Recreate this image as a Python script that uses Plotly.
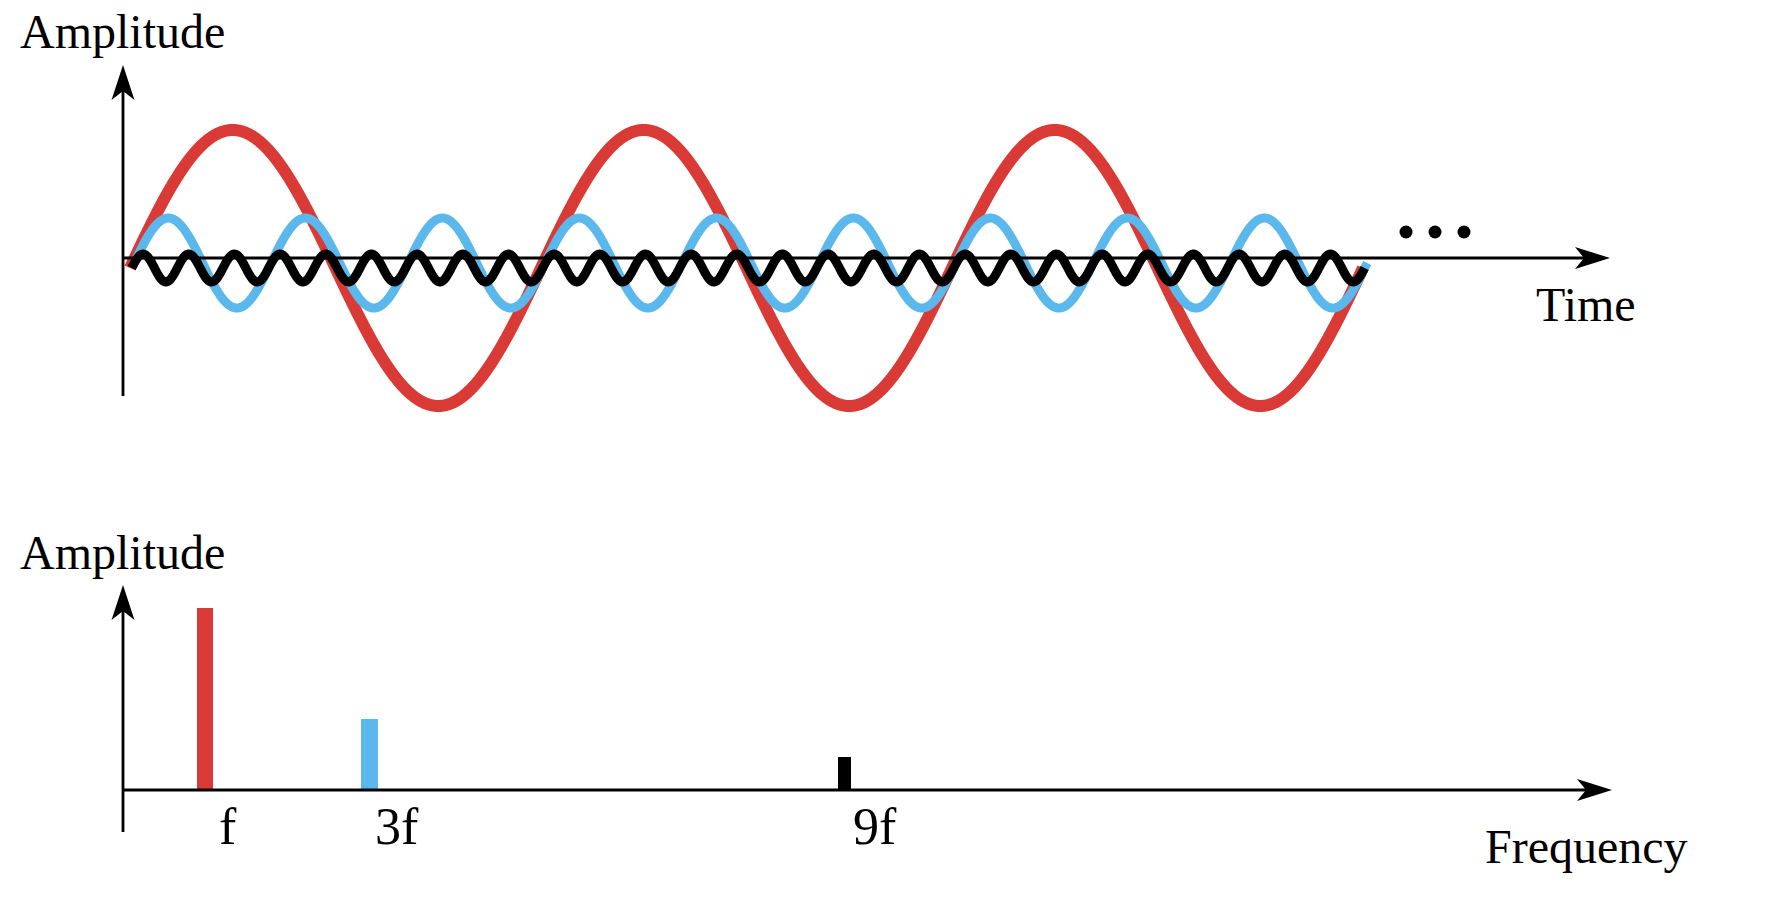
import numpy as np
import plotly.graph_objects as go

# ---------------- data ----------------
# time panel: three harmonics (cycles over the drawn window, amplitude relative to fundamental)
wave_names = ["f", "3f", "9f"]
wave_cycles = [3, 9, 27]
wave_amp = [1.0, 0.326, 0.101]
wave_offset = [0.0, 0.036, 0.0]      # small baseline shift seen in the picture
wave_t0 = [0.0, 0.010, 0.004]        # start (in fundamental periods)
wave_span = 3.0                      # window length, in fundamental periods

# frequency panel: spectrum bars
harmonic_labels = ["f", "3f", "9f"]
harmonic_freq = [1.0, 3.0, 8.77]
harmonic_amp = [1.0, 0.39, 0.176]

colors = ["#D93A35", "#5AB8EC", "#000000"]
wave_widths = [12, 9, 9]
bar_widths_px = [16, 17, 13]
label_shift = [23, 27, 31]

# ---------------- geometry helpers ----------------
W, H = 1784, 904
SPLIT = 460                         # pixel row dividing the two panels
top_dom = [(H - SPLIT) / H, 1.0]
bot_dom = [0.0, (H - SPLIT) / H]

# top panel: x in fundamental periods, y in fundamental amplitude
TX0, TPER = 130.0, 411.0
TY0, TAMP = 268.0, 138.0
top_xr = [(0 - TX0) / TPER, (W - TX0) / TPER]
top_yr = [(TY0 - SPLIT) / TAMP, (TY0 - 0) / TAMP]

# bottom panel: x in multiples of f, y in fundamental amplitude
BX0, BUNIT = 123.0, 82.25
BY0, BAMP = 789.5, 182.0
bot_xr = [(0 - BX0) / BUNIT, (W - BX0) / BUNIT]
bot_yr = [(BY0 - H) / BAMP, (BY0 - SPLIT) / BAMP]


def px(x):
    return x / W


def py(y):
    return 1 - y / H


fig = go.Figure()

# ---------------- time-domain waves ----------------
for i in range(3):
    t = np.linspace(wave_t0[i], wave_t0[i] + wave_span, 4000)
    y = wave_offset[i] + wave_amp[i] * np.sin(2 * np.pi * wave_cycles[i] / wave_span * (t - wave_t0[i]))
    fig.add_trace(go.Scatter(
        x=t, y=y, mode="lines", name=wave_names[i],
        line=dict(color=colors[i], width=wave_widths[i], simplify=False),
        xaxis="x", yaxis="y", hoverinfo="skip",
    ))

# ellipsis dots
dot_px = [1406, 1435, 1464]
fig.add_trace(go.Scatter(
    x=[(d - TX0) / TPER for d in dot_px], y=[(TY0 - 232) / TAMP] * 3,
    mode="markers", marker=dict(color="black", size=13),
    xaxis="x", yaxis="y", hoverinfo="skip",
))

# ---------------- spectrum bars ----------------
fig.add_trace(go.Bar(
    x=harmonic_freq, y=harmonic_amp,
    width=[w / BUNIT for w in bar_widths_px],
    marker=dict(color=colors, line=dict(width=0)),
    xaxis="x2", yaxis="y2", hoverinfo="skip",
))

# ---------------- axes with arrows ----------------
shapes = []
LW = 2.8


def hline(x0, x1, y):
    shapes.append(dict(type="line", xref="paper", yref="paper",
                       x0=px(x0), x1=px(x1), y0=py(y), y1=py(y),
                       line=dict(color="black", width=LW), layer="above"))


def vline(x, y0, y1):
    shapes.append(dict(type="line", xref="paper", yref="paper",
                       x0=px(x), x1=px(x), y0=py(y0), y1=py(y1),
                       line=dict(color="black", width=LW), layer="above"))


def head(x, y, direction):
    if direction == "right":
        path = "M0,0 L-35,11 L-26,0 L-35,-11 Z"
    else:
        path = "M0,0 L-11.5,-35 L0,-26 L11.5,-35 Z"
    shapes.append(dict(type="path", xref="paper", yref="paper",
                       xsizemode="pixel", ysizemode="pixel",
                       xanchor=px(x), yanchor=py(y), path=path,
                       fillcolor="black", line=dict(width=0), layer="above"))


# top panel
vline(123, 396, 90)
head(123, 65, "up")
hline(122, 1586, 258)
head(1610, 258, "right")
# bottom panel
vline(123, 832, 610)
head(123, 585, "up")
hline(122, 1588, 790)
head(1612, 790, "right")

# ---------------- texts ----------------
FONT = "Liberation Serif, Times New Roman, serif"
ann = []


def text(s, x, y, size):
    ann.append(dict(text=s, x=px(x), y=py(y), xref="paper", yref="paper",
                    xanchor="center", yanchor="middle", showarrow=False,
                    font=dict(family=FONT, size=size, color="black")))


text("Amplitude", 122, 31, 48)
text("Amplitude", 122, 552, 48)
text("Time", 1586, 304, 48)
text("Frequency", 1586, 846, 48)

for lab, fx, sh in zip(harmonic_labels, harmonic_freq, label_shift):
    ann.append(dict(text=lab, x=fx, y=(BY0 - 826.5) / BAMP, xref="x2", yref="y2",
                    xshift=sh, xanchor="center", yanchor="middle", showarrow=False,
                    font=dict(family=FONT, size=52, color="black")))

fig.update_layout(
    width=W, height=H,
    margin=dict(l=0, r=0, t=0, b=0),
    paper_bgcolor="white", plot_bgcolor="white",
    showlegend=False,
    xaxis=dict(domain=[0, 1], range=top_xr, visible=False, anchor="y", fixedrange=True),
    yaxis=dict(domain=top_dom, range=top_yr, visible=False, anchor="x", fixedrange=True),
    xaxis2=dict(domain=[0, 1], range=bot_xr, visible=False, anchor="y2", fixedrange=True),
    yaxis2=dict(domain=bot_dom, range=bot_yr, visible=False, anchor="x2", fixedrange=True),
    shapes=shapes,
    annotations=ann,
    bargap=0,
)

fig.write_html(
    "out.html",
    config={"displayModeBar": False},
    post_script="document.body.style.margin='0';document.body.style.overflow='hidden';",
)
